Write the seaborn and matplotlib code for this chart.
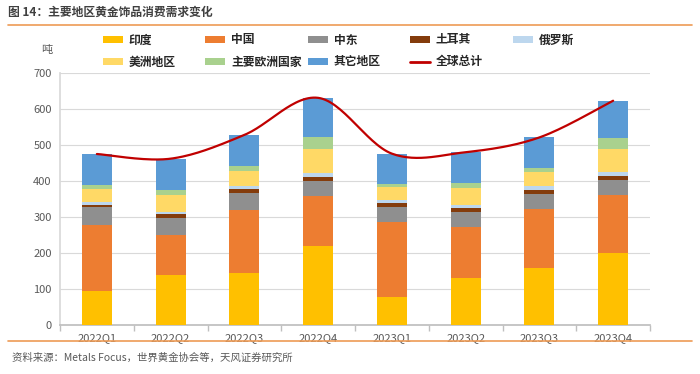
import numpy as np
import matplotlib
matplotlib.use("Agg")
import matplotlib.pyplot as plt
from matplotlib.patches import Patch
from matplotlib.lines import Line2D
import seaborn as sns

# quarters and regional jewellery demand (tonnes)
quarters = ["2022Q1", "2022Q2", "2022Q3", "2022Q4", "2023Q1", "2023Q2", "2023Q3", "2023Q4"]
india = [94, 140, 145, 220, 79, 130, 157, 201]
china = [184, 110, 174, 137, 207, 142, 165, 160]
middle_east = [49, 47, 47, 44, 42, 43, 41, 42]
turkey = [6, 10, 11, 11, 11, 11, 11, 10]
russia = [8, 6, 9, 9, 8, 6, 11, 12]
americas = [37, 49, 42, 67, 35, 49, 39, 64]
europe = [11, 14, 13, 33, 10, 13, 13, 30]
other = [86, 86, 87, 110, 84, 86, 84, 104]
y_ticks = [0, 100, 200, 300, 400, 500, 600, 700]

series_names = ["印度", "中国", "中东", "土耳其", "俄罗斯", "美洲地区", "主要欧洲国家", "其它地区"]
series_vals = [india, china, middle_east, turkey, russia, americas, europe, other]
colors = ["#FFC000", "#ED7D31", "#8F8F8F", "#843C0C", "#BDD7EE", "#FFD966", "#A9D18E", "#5B9BD5"]
line_color = "#C00000"
orange = "#EE9B55"

sns.set_theme(style="white")
plt.rcParams["font.family"] = ["Noto Sans CJK SC", "DejaVu Sans"]

fig = plt.figure(figsize=(7, 3.74), dpi=100)
ax = fig.add_axes([60 / 700, 1 - 325 / 374, 590 / 700, 252 / 374])

# stacked bars: draw cumulative sums from the top layer down
cum = np.cumsum(np.array(series_vals), axis=0)
for i in range(len(series_vals) - 1, -1, -1):
    sns.barplot(x=quarters, y=cum[i], color=colors[i], width=0.41,
                saturation=1, linewidth=0, ax=ax, zorder=3)

# smoothed total line (Catmull-Rom through the totals, like Excel's smooth line)
totals = cum[-1].astype(float)
xs = np.arange(len(quarters), dtype=float)
pts = np.column_stack([xs, totals])
ext = np.vstack([pts[0], pts, pts[-1]])
curve = []
for k in range(1, len(ext) - 2):
    p0, p1, p2, p3 = ext[k - 1], ext[k], ext[k + 1], ext[k + 2]
    for t in np.linspace(0, 1, 30, endpoint=False):
        t2, t3 = t * t, t * t * t
        curve.append(0.5 * ((2 * p1) + (-p0 + p2) * t + (2 * p0 - 5 * p1 + 4 * p2 - p3) * t2
                            + (-p0 + 3 * p1 - 3 * p2 + p3) * t3))
curve.append(pts[-1])
curve = np.array(curve)
ax.plot(curve[:, 0], curve[:, 1], color=line_color, lw=1.6, zorder=5)

# axes styling
ax.set_xlim(-0.5, len(quarters) - 0.5)
ax.set_ylim(0, 700)
ax.set_yticks(y_ticks)
ax.yaxis.grid(True, color="#D9D9D9", lw=0.8)
ax.set_axisbelow(True)
for s in ["top", "right"]:
    ax.spines[s].set_visible(False)
ax.spines["left"].set_color("#D9D9D9")
ax.spines["bottom"].set_color("#BFBFBF")
ax.tick_params(axis="y", length=0, labelsize=8, labelcolor="#595959", pad=6)
ax.tick_params(axis="x", length=0, labelsize=8, labelcolor="#595959", pad=6)
ax.set_xticks(np.arange(-0.5, len(quarters), 1), minor=True)
ax.tick_params(axis="x", which="minor", length=4, color="#BFBFBF", direction="out", bottom=True)
ax.set_xlabel("")
ax.set_ylabel("")

fig.text(47 / 700, 1 - 50 / 374, "吨", fontsize=8, color="#595959", ha="center", va="center")

# legend, one entry per slot like the Excel layout
col_x = [103, 205, 308, 410, 513]
row_y = [40, 62]
handles = [Patch(facecolor=c, edgecolor="none") for c in colors]
handles.append(Line2D([0], [0], color=line_color, lw=2))
labels = series_names + ["全球总计"]
for j, (h, lab) in enumerate(zip(handles, labels)):
    r, c = divmod(j, 5)
    fig.legend(handles=[h], labels=[lab], loc="center left",
               bbox_to_anchor=(col_x[c] / 700, 1 - row_y[r] / 374), frameon=False,
               handlelength=1.7, handleheight=0.55, handletextpad=0.5, borderpad=0,
               borderaxespad=0, prop={"size": 8.5, "weight": "bold"})

# title and source with orange rules
fig.text(8 / 700, 1 - 12 / 374, "图 14：主要地区黄金饰品消费需求变化", fontsize=8.5,
         fontweight="bold", color="#404040", ha="left", va="center")
fig.add_artist(Line2D([8 / 700, 692 / 700], [1 - 25 / 374, 1 - 25 / 374], color=orange, lw=1.2))
fig.add_artist(Line2D([8 / 700, 692 / 700], [1 - 341 / 374, 1 - 341 / 374], color=orange, lw=1.2))
fig.text(12 / 700, 1 - 358 / 374, "资料来源：Metals Focus，世界黄金协会等，天风证券研究所", fontsize=7.5,
         color="#595959", ha="left", va="center")

fig.savefig("out.png", dpi=100)
